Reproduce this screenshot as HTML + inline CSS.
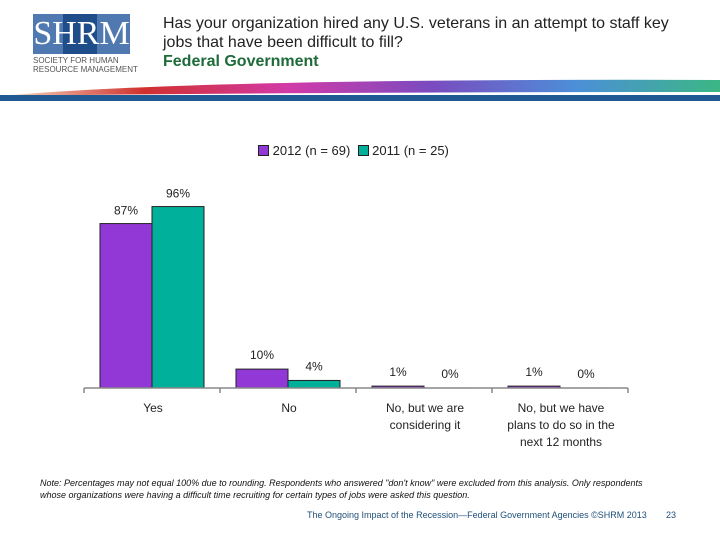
<!DOCTYPE html>
<html><head><meta charset="utf-8">
<style>
body{margin:0;width:720px;height:540px;background:#fff;position:relative;overflow:hidden;font-family:"Liberation Sans",sans-serif}
.a{position:absolute}
</style></head>
<body>
<div class="a" style="left:33px;top:14px;width:97px;height:40px;background:#4f79b0">
  <div class="a" style="left:30px;top:0;width:34px;height:40px;background:#1e4d8a"></div>
  <div class="a" style="left:0;top:2px;width:97px;text-align:center;color:#fff;font-family:'Liberation Serif',serif;font-size:34px;line-height:36px">SHRM</div>
</div>
<div class="a" style="left:33px;top:56px;font-size:8px;line-height:9px;color:#555">SOCIETY FOR HUMAN<br>RESOURCE MANAGEMENT</div>
<div class="a" style="left:163px;top:14px;font-size:16px;line-height:19px;color:#222">Has your organization hired any U.S. veterans in an attempt to staff key<br>jobs that have been difficult to fill?<br><b style="color:#1e6b3a">Federal Government</b></div>
<svg class="a" style="left:0;top:76px" width="720" height="26">
<defs><linearGradient id="g" x1="0" x2="1"><stop offset="0" stop-color="#f6e4c8"/><stop offset="0.2" stop-color="#d0302e"/><stop offset="0.4" stop-color="#d23aa8"/><stop offset="0.6" stop-color="#7a4bc0"/><stop offset="0.8" stop-color="#4c8fd8"/><stop offset="1" stop-color="#3bb784"/></linearGradient></defs>
<path d="M0 20 Q200 2 720 4 L720 16 Q300 16 0 20Z" fill="url(#g)"/>
<rect x="0" y="19" width="720" height="6" fill="#1f5a94"/>
</svg>
<div class="a" style="left:258px;top:143px;font-size:13px;color:#222;white-space:nowrap">
<span><span style="display:inline-block;width:9px;height:9px;background:#9238d6;border:1px solid #222;vertical-align:-1px"></span> 2012 (n = 69)</span>
&nbsp;<span><span style="display:inline-block;width:9px;height:9px;background:#00b09a;border:1px solid #222;vertical-align:-1px"></span> 2011 (n = 25)</span>
</div>
<svg class="a" style="left:0;top:0" width="720" height="460" id="chart"></svg>
<div class="a" style="left:40px;top:477px;font-size:9px;line-height:12px;font-style:italic;color:#111;white-space:nowrap">Note: Percentages may not equal 100% due to rounding. Respondents who answered "don't know" were excluded from this analysis. Only respondents<br>whose organizations were having a difficult time recruiting for certain types of jobs were asked this question.</div>
<div class="a" style="left:307px;top:510px;font-size:9px;color:#1f4f7a;white-space:nowrap">The Ongoing Impact of the Recession—Federal Government Agencies ©SHRM 2013</div>
<div class="a" style="left:666px;top:510px;font-size:9px;color:#1f4f7a">23</div>
<script>
const categories=["Yes","No","No, but we are|considering it","No, but we have|plans to do so in the|next 12 months"];
const values2012=[87,10,1,1];
const values2011=[96,4,0,0];
const NS="http://www.w3.org/2000/svg";
const svg=document.getElementById('chart');
const x0=84,catW=136,base=388,pxPer=1.89,bw=52,off=16;
function y(v){return base-v*pxPer;}
function mk(t,a){const e=document.createElementNS(NS,t);for(const k in a)e.setAttribute(k,a[k]);svg.appendChild(e);return e;}
function txt(s,x,yy,name){const t=mk('text',{x:x,y:yy,'text-anchor':'middle','font-size':12,'font-family':'Liberation Sans, sans-serif',fill:'#222'});t.textContent=s;

return t;}
categories.forEach((c,i)=>{
  const cx=x0+i*catW+off;
  [[values2012,'#9238d6','2012'],[values2011,'#00b09a','2011']].forEach((s,j)=>{
    const v=s[0][i],bx=cx+j*bw;
    const r=mk('rect',{x:bx,y:y(v),width:bw,height:Math.max(v*pxPer,0.01),fill:s[1],stroke:'#222','stroke-width':1});
    
    
    let ly=v>50?y(v)-9:Math.min(y(v)-10,base-12);
    if(v===0)ly+=2;
    txt(v+'%',bx+bw/2,ly,'value-label-'+s[2]+'-'+i);
  });
  c.split('|').forEach((l,k)=>txt(l,x0+i*catW+catW/2-16+off+1,412+k*17,'category-label-'+i));
});
const ax=mk('line',{x1:x0,y1:base,x2:x0+4*catW,y2:base,stroke:'#888','stroke-width':1.5});


for(let i=0;i<=4;i++){const t=mk('line',{x1:x0+i*catW,y1:base,x2:x0+i*catW,y2:base+5,stroke:'#888','stroke-width':1.5});

}
</script>
</body></html>
